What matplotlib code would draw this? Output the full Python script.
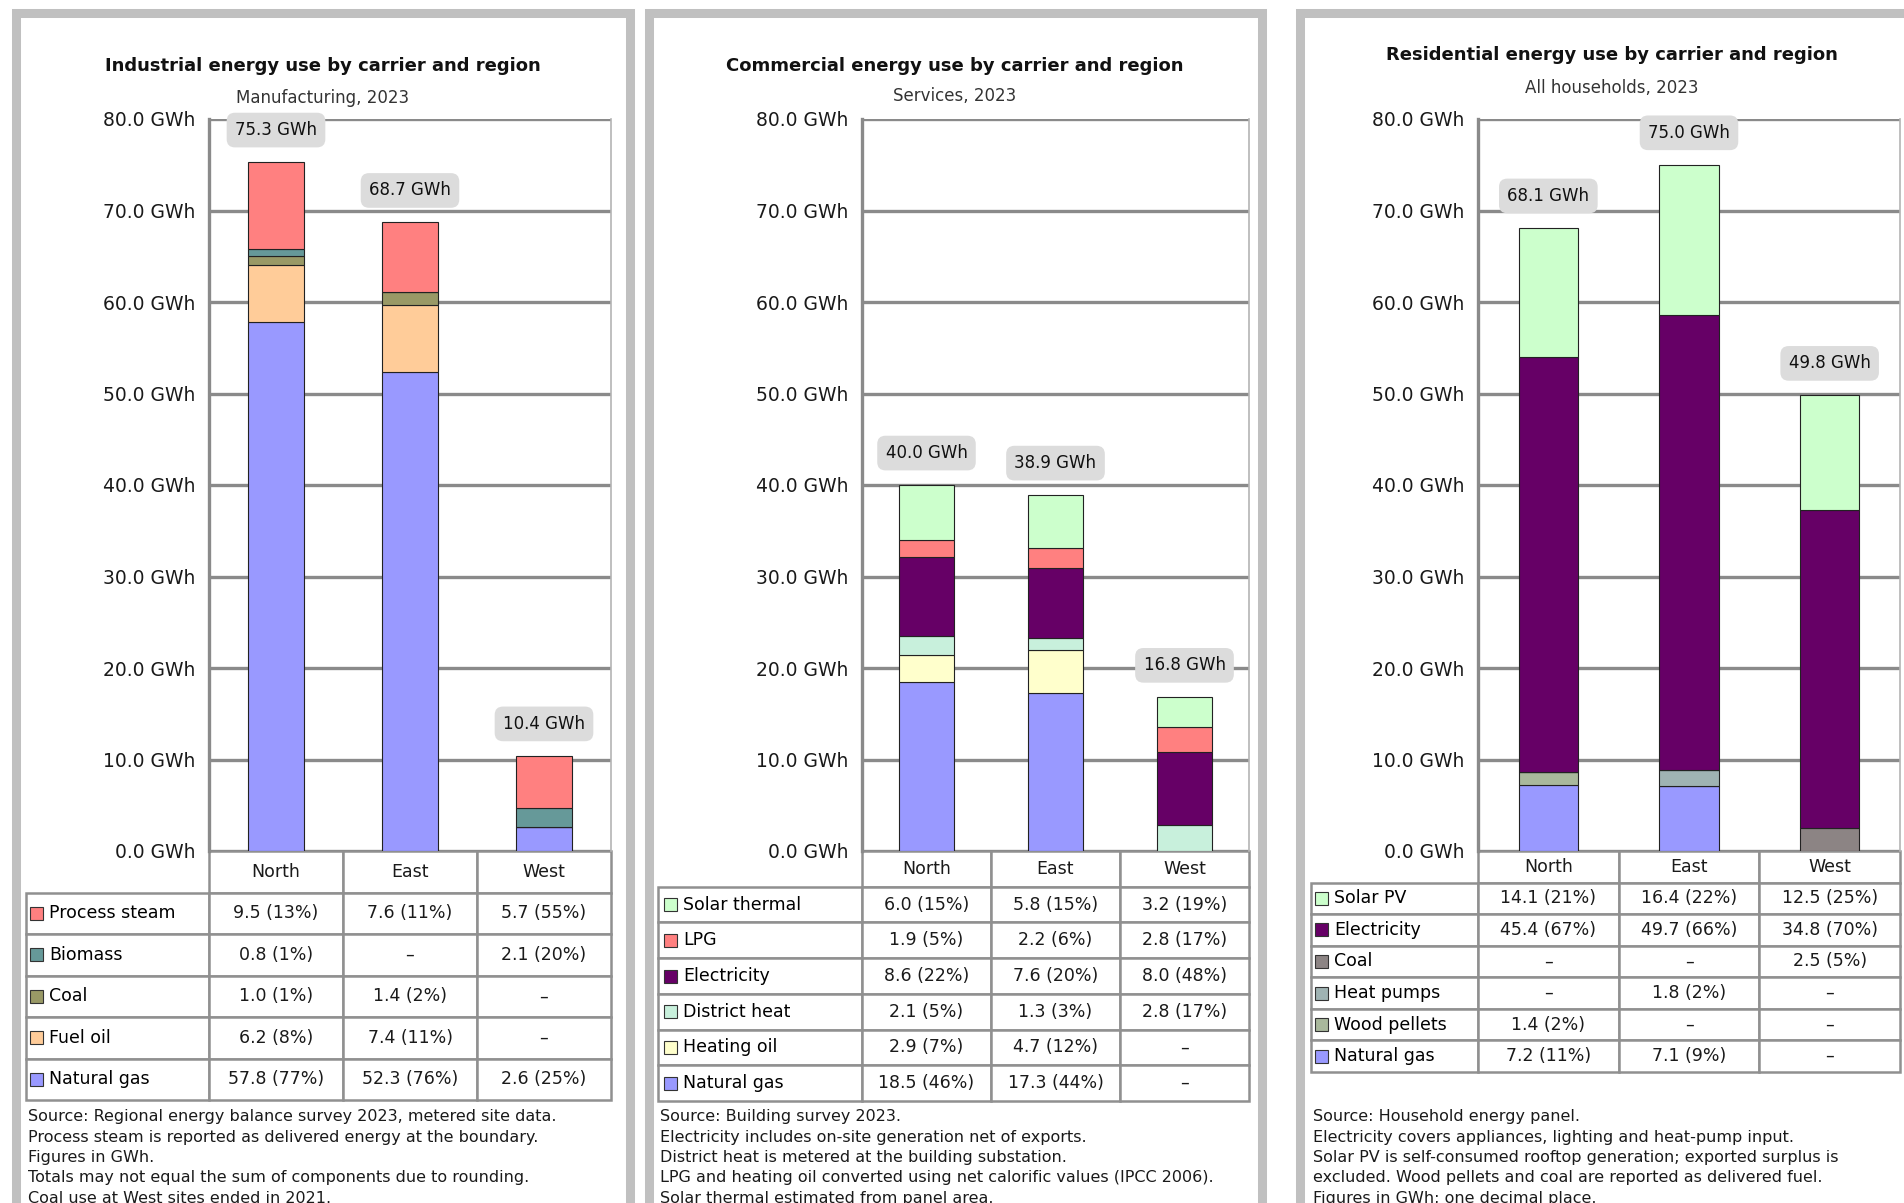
import numpy as np
import matplotlib
matplotlib.use("Agg")
import matplotlib.pyplot as plt
from matplotlib.patches import Rectangle
from matplotlib.ticker import MultipleLocator, FuncFormatter

# figure size in pixels (dpi=100)
FIG_W, FIG_H = 1904, 1203
AX_TOP, AX_BOT = 119, 851

regions = ["North", "East", "West"]

# --- industry (GWh), stacked bottom -> top ---
ind_title = "Industrial energy use by carrier and region"
ind_sub = "Manufacturing, 2023"
ind_names = ["Natural gas", "Fuel oil", "Coal", "Biomass", "Process steam"]
ind_colors = ["#9999ff", "#ffcc99", "#999966", "#669999", "#ff8080"]
ind_gas = [57.8, 52.3, 2.6]
ind_oil = [6.2, 7.4, 0.0]
ind_coal = [1.0, 1.4, 0.0]
ind_bio = [0.8, 0.0, 2.1]
ind_steam = [9.5, 7.6, 5.7]
ind_notes = [
    "Source: Regional energy balance survey 2023, metered site data.",
    "Process steam is reported as delivered energy at the boundary.",
    "Figures in GWh.",
    "Totals may not equal the sum of components due to rounding.",
    "Coal use at West sites ended in 2021.",
]

# --- commercial (GWh) ---
com_title = "Commercial energy use by carrier and region"
com_sub = "Services, 2023"
com_names = ["Natural gas", "Heating oil", "District heat", "Electricity", "LPG", "Solar thermal"]
com_colors = ["#9999ff", "#ffffcc", "#c8f0dc", "#660066", "#ff8080", "#ccffcc"]
com_gas = [18.5, 17.3, 0.0]
com_oil = [2.9, 4.7, 0.0]
com_heat = [2.1, 1.3, 2.8]
com_elec = [8.6, 7.6, 8.0]
com_lpg = [1.9, 2.2, 2.8]
com_solar = [6.0, 5.8, 3.2]
com_notes = [
    "Source: Building survey 2023.",
    "Electricity includes on-site generation net of exports.",
    "District heat is metered at the building substation.",
    "LPG and heating oil converted using net calorific values (IPCC 2006).",
    "Solar thermal estimated from panel area.",
]

# --- residential (GWh) ---
res_title = "Residential energy use by carrier and region"
res_sub = "All households, 2023"
res_names = ["Natural gas", "Wood pellets", "Heat pumps", "Coal", "Electricity", "Solar PV"]
res_colors = ["#9999ff", "#a9b89c", "#9fb3b3", "#8c8484", "#660066", "#ccffcc"]
res_gas = [7.2, 7.1, 0.0]
res_wood = [1.4, 0.0, 0.0]
res_hp = [0.0, 1.8, 0.0]
res_coal = [0.0, 0.0, 2.5]
res_elec = [45.4, 49.7, 34.8]
res_pv = [14.1, 16.4, 12.5]
res_notes = [
    "Source: Household energy panel.",
    "Electricity covers appliances, lighting and heat-pump input.",
    "Solar PV is self-consumed rooftop generation; exported surplus is",
    "excluded. Wood pellets and coal are reported as delivered fuel.",
    "Figures in GWh; one decimal place.",
]

# pixel layout of the three cards
layouts = [
    dict(frame=(16, 630), axes=(209, 611), tab_x=26, tab_bot=1100, sw_x=30,
         cx=323, title_y=66, sub_y=98),
    dict(frame=(649, 1262), axes=(862, 1249), tab_x=658, tab_bot=1101, sw_x=664,
         cx=955, title_y=66, sub_y=96),
    dict(frame=(1300, 1922), axes=(1478, 1900), tab_x=1311, tab_bot=1072, sw_x=1315,
         cx=1612, title_y=55, sub_y=88),
]

GRID = dict(color="#8a8a8a", lw=2.4)
INK = "#1a1a1a"


def fx(x):
    return x / FIG_W


def fy(y):
    return 1 - y / FIG_H


def draw_panel(fig, lay, title, sub, names, colors, series, notes):
    x0f, x1f = lay["frame"]
    fig.add_artist(Rectangle((fx(x0f), -0.05), fx(x1f - x0f), 1.05 - 13 / FIG_H,
                             transform=fig.transFigure, fill=False,
                             ec="#c0c0c0", lw=6.5, zorder=0))

    fig.text(fx(lay["cx"]), fy(lay["title_y"]), title, ha="center", va="center",
             fontsize=13, weight="bold", color="#111111")
    fig.text(fx(lay["cx"]), fy(lay["sub_y"]), sub, ha="center", va="center",
             fontsize=12, color="#333333")

    a0, a1 = lay["axes"]
    ax = fig.add_axes([fx(a0), fy(AX_BOT), fx(a1 - a0), (AX_BOT - AX_TOP) / FIG_H])
    x = np.arange(len(regions))
    bottom = np.zeros(len(regions))
    for vals, c in zip(series, colors):
        ax.bar(x, vals, 0.42, bottom=bottom, color=c, edgecolor="#222222",
               linewidth=0.8, zorder=3)
        bottom += np.array(vals)

    for xi, tot in zip(x, bottom):
        ax.annotate(f"{tot:.1f} GWh", (xi, tot), xytext=(0, 23),
                    textcoords="offset points", ha="center", va="center",
                    fontsize=12, color="#111111", zorder=5,
                    annotation_clip=False,
                    bbox=dict(boxstyle="round,pad=0.5", fc="#dcdcdc", ec="none"))

    ax.set_xlim(-0.5, 2.5)
    ax.set_ylim(0, 80)
    ax.set_xticks([])
    ax.yaxis.set_major_locator(MultipleLocator(10))
    ax.yaxis.set_major_formatter(FuncFormatter(lambda v, p: f"{v:.1f} GWh"))
    ax.tick_params(axis="y", length=0, pad=10, labelsize=13.5, labelcolor=INK)
    ax.grid(axis="y", color=GRID["color"], linewidth=GRID["lw"], zorder=0)
    ax.set_axisbelow(True)
    ax.spines["left"].set_color(GRID["color"])
    ax.spines["left"].set_linewidth(GRID["lw"])
    ax.spines["right"].set_color("#b4b4b4")
    ax.spines["right"].set_linewidth(1.2)
    ax.spines["top"].set_visible(False)
    ax.spines["bottom"].set_visible(False)

    # data table under the bars, top series first; value and share of region total
    aw = a1 - a0
    ah = AX_BOT - AX_TOP
    tx0, tbot = lay["tab_x"], lay["tab_bot"]
    rows = [[n] + [f"{v:.1f} ({100 * v / t:.0f}%)" if v else "–"
                   for v, t in zip(vals, bottom)]
            for n, vals in zip(names[::-1], series[::-1])]
    lab_w = a0 - tx0
    tab = ax.table(cellText=rows, colLabels=[""] + regions,
                   colWidths=[lab_w, aw / 3, aw / 3, aw / 3], cellLoc="center",
                   bbox=[(tx0 - a0) / aw, -(tbot - AX_BOT) / ah,
                         (a1 - tx0) / aw, (tbot - AX_BOT) / ah])
    tab.auto_set_font_size(False)
    tab.set_fontsize(12.5)
    sw = 13
    for (r, c), cell in tab.get_celld().items():
        cell.set_edgecolor("#909090")
        cell.set_linewidth(1.8)
        cell.get_text().set_color(INK)
        if c == 0:
            cell.get_text().set_ha("left")
            cell.get_text().set_color("#000000")
            cell.PAD = (lay["sw_x"] + sw + 6 - tx0) / lab_w
        if r == 0 and c == 0:
            cell.set_edgecolor("none")

    # colour keys in front of the row labels
    rh = (tbot - AX_BOT) / (len(rows) + 1)
    for i, c in enumerate(colors[::-1]):
        yc = AX_BOT + (i + 1.5) * rh
        fig.add_artist(Rectangle((fx(lay["sw_x"]), fy(yc + sw / 2)), sw / FIG_W, sw / FIG_H,
                                 transform=fig.transFigure, fc=c, ec="#333333", lw=0.8))

    for k, line in enumerate(notes):
        fig.text(fx(tx0 + 2), fy(1117 + 20.3 * k), line, ha="left", va="center",
                 fontsize=11.5, color=INK)
    return ax


fig = plt.figure(figsize=(FIG_W / 100, FIG_H / 100), dpi=100)

draw_panel(fig, layouts[0], ind_title, ind_sub, ind_names, ind_colors,
           [ind_gas, ind_oil, ind_coal, ind_bio, ind_steam], ind_notes)
draw_panel(fig, layouts[1], com_title, com_sub, com_names, com_colors,
           [com_gas, com_oil, com_heat, com_elec, com_lpg, com_solar], com_notes)
draw_panel(fig, layouts[2], res_title, res_sub, res_names, res_colors,
           [res_gas, res_wood, res_hp, res_coal, res_elec, res_pv], res_notes)

fig.savefig("out.png", dpi=100)
